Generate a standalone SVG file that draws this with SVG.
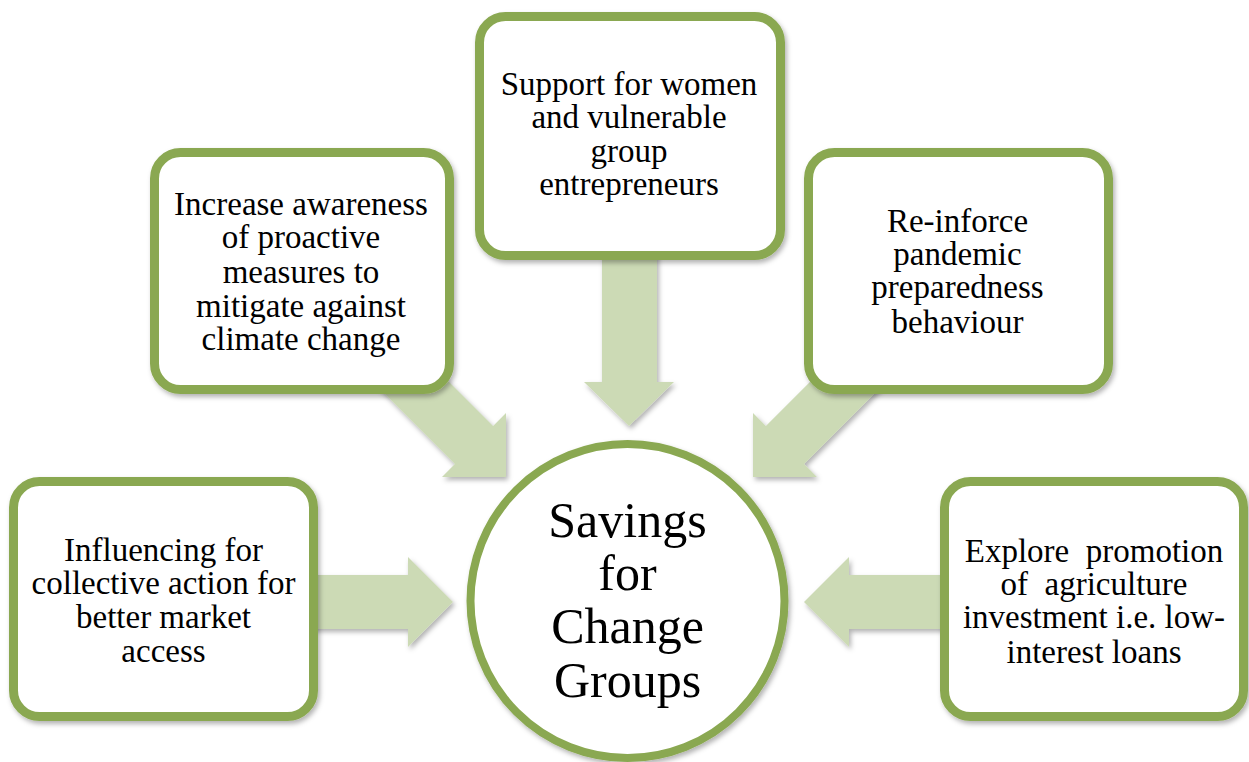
<svg xmlns="http://www.w3.org/2000/svg" width="1249" height="762" viewBox="0 0 1249 762">
  <defs>
    <filter id="shadow" x="-10%" y="-10%" width="130%" height="130%">
      <feDropShadow dx="2" dy="3" stdDeviation="2.5" flood-color="#000" flood-opacity="0.3"/>
    </filter>
    <style>
      .box { fill: #ffffff; stroke: #8aa851; stroke-width: 9; filter: url(#shadow); }
      .hub { fill: #ffffff; stroke: #8aa851; stroke-width: 8; filter: url(#shadow); }
      .arrow { fill: #ccdab5; filter: url(#shadow); }
      .label { font-family: "Liberation Serif", "Times New Roman", serif; font-size: 33px; fill: #000; text-anchor: middle; white-space: pre; }
      .hub-label { font-family: "Liberation Serif", "Times New Roman", serif; font-size: 50px; fill: #000; text-anchor: middle; }
    </style>
  </defs>
  <rect width="1249" height="762" fill="#ffffff"/>

  <!-- block arrows pointing into the hub -->
  <g id="connectors">
    <path class="arrow" d="M300,575 H408 V557 L453,602 L408,647 V629 H300 Z"/>
    <path class="arrow" d="M960,575 H849 V557 L804,602 L849,647 V629 H960 Z"/>
    <path class="arrow" d="M602,240 V382 H584 L629,426 L674,382 H657 V240 Z"/>
    <path class="arrow" d="M401.1,333.9 L493.1,425.9 L506,413 L506,477 L442,477 L454.9,464.1 L362.9,372.1 Z"/>
    <path class="arrow" d="M857.9,333.9 L765.9,425.9 L753,413 L753,477 L817,477 L804.1,464.1 L896.1,372.1 Z"/>
  </g>

  <g id="hub">
    <circle class="hub" cx="627.5" cy="601" r="157"/>
    <text class="hub-label" x="627.5" y="537">Savings</text>
    <text class="hub-label" x="627.5" y="590">for</text>
    <text class="hub-label" x="627.5" y="643">Change</text>
    <text class="hub-label" x="627.5" y="697">Groups</text>
  </g>

  <g id="market-access">
    <rect class="box" x="13.5" y="481.5" width="300" height="235" rx="26"/>
    <text class="label" x="163.5" y="561">Influencing for</text>
    <text class="label" x="163.5" y="594">collective action for</text>
    <text class="label" x="163.5" y="628">better market</text>
    <text class="label" x="163.5" y="662">access</text>
  </g>

  <g id="climate-awareness">
    <rect class="box" x="154.5" y="152.5" width="295" height="237" rx="26"/>
    <text class="label" x="301" y="215">Increase awareness</text>
    <text class="label" x="301" y="248">of proactive</text>
    <text class="label" x="301" y="283">measures to</text>
    <text class="label" x="301" y="317">mitigate against</text>
    <text class="label" x="301" y="350">climate change</text>
  </g>

  <g id="women-support">
    <rect class="box" x="479.5" y="16.5" width="301" height="239" rx="26"/>
    <text class="label" x="629" y="95">Support for women</text>
    <text class="label" x="629" y="128">and vulnerable</text>
    <text class="label" x="629" y="162">group</text>
    <text class="label" x="629" y="195">entrepreneurs</text>
  </g>

  <g id="pandemic-preparedness">
    <rect class="box" x="808.5" y="152.5" width="300" height="237" rx="26"/>
    <text class="label" x="957.5" y="232">Re-inforce</text>
    <text class="label" x="957.5" y="265">pandemic</text>
    <text class="label" x="957.5" y="298">preparedness</text>
    <text class="label" x="957.5" y="333">behaviour</text>
  </g>

  <g id="agriculture-investment">
    <rect class="box" x="944.5" y="481.5" width="299" height="235" rx="26"/>
    <text class="label" x="1094" y="562">Explore  promotion</text>
    <text class="label" x="1094" y="595">of  agriculture</text>
    <text class="label" x="1094" y="628">investment i.e. low-</text>
    <text class="label" x="1094" y="663">interest loans</text>
  </g>
</svg>
